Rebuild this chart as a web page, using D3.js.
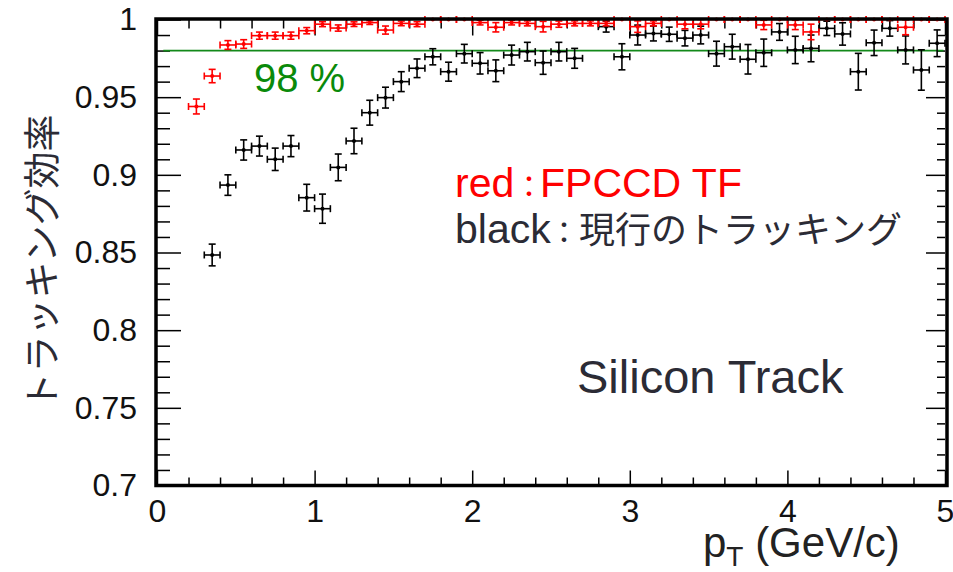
<!DOCTYPE html>
<html>
<head>
<meta charset="utf-8">
<script src="https://cdn.jsdelivr.net/npm/d3@7"></script>
<style>
  body { margin: 0; background: #fff; }
  svg { display: block; }
</style>
</head>
<body>
<div id="chart"></div>
<script>
// bin centres (GeV/c), bin half-width 0.05
const pT = [0.25, 0.35, 0.45, 0.55, 0.65, 0.75, 0.85, 0.95, 1.05, 1.15, 1.25, 1.35,
            1.45, 1.55, 1.65, 1.75, 1.85, 1.95, 2.05, 2.15, 2.25, 2.35, 2.45, 2.55,
            2.65, 2.75, 2.85, 2.95, 3.05, 3.15, 3.25, 3.35, 3.45, 3.55, 3.65, 3.75,
            3.85, 3.95, 4.05, 4.15, 4.25, 4.35, 4.45, 4.55, 4.65, 4.75, 4.85, 4.95];
const binHalf = 0.05;

// red : FPCCD TF
const redEff = [0.944, 0.9636, 0.9836, 0.9842, 0.9896, 0.9896, 0.9896, 0.9928, 0.997, 0.9945, 0.997, 0.998,
                0.9932, 0.9975, 0.997, 1.0, 1.0, 1.0, 0.998, 0.995, 0.998, 0.9975, 0.9954, 0.997,
                0.9975, 0.9975, 0.9975, 1.0, 0.9954, 0.9975, 1.0, 0.997, 0.997, 1.0, 1.0, 1.0,
                0.9965, 1.0, 0.9965, 0.992, 1.0, 1.0, 1.0, 1.0, 1.0, 0.995, 1.0, 1.0];
const redErr = [0.0048, 0.0043, 0.0028, 0.0028, 0.0023, 0.0023, 0.0023, 0.002, 0.0016, 0.002, 0.0015, 0.0012,
                0.0026, 0.0015, 0.0016, 0, 0, 0, 0.0015, 0.003, 0.0015, 0.0016, 0.0034, 0.002,
                0.0016, 0.0016, 0.0016, 0, 0.0037, 0.0016, 0, 0.003, 0.003, 0, 0, 0,
                0.003, 0, 0.003, 0.005, 0, 0, 0, 0, 0, 0.0048, 0, 0];

// black : current tracking
const blackEff = [null, 0.8484, 0.8934, 0.916, 0.9185, 0.91, 0.9185, 0.8853, 0.8782, 0.9048, 0.9218, 0.94,
                  0.9497, 0.96, 0.9686, 0.976, 0.9664, 0.978, 0.9718, 0.967, 0.9771, 0.9793, 0.9722, 0.9793,
                  0.975, null, 0.9954, 0.976, 0.990, 0.991, 0.9905, 0.988, 0.99, 0.978, 0.9825, 0.9744,
                  0.9786, 0.992, 0.9804, 0.9814, 0.9943, 0.9907, 0.9664, 0.985, 0.9943, 0.9804, 0.9675, 0.9847];
const blackErr = [null, 0.007, 0.0066, 0.0065, 0.0064, 0.0072, 0.0068, 0.0086, 0.0094, 0.0086, 0.0082, 0.008,
                  0.0067, 0.0064, 0.006, 0.0052, 0.0061, 0.006, 0.0069, 0.007, 0.0064, 0.006, 0.0075, 0.006,
                  0.0064, null, 0.0035, 0.0084, 0.0064, 0.0048, 0.0046, 0.005, 0.0057, 0.008, 0.008, 0.0095,
                  0.0088, 0.0054, 0.0088, 0.0086, 0.0046, 0.0072, 0.0118, 0.0082, 0.005, 0.009, 0.013, 0.0086];

const xMajor = [0, 1, 2, 3, 4, 5];
const yMajor = [0.7, 0.75, 0.8, 0.85, 0.9, 0.95, 1];
const yLabels = ["0.7", "0.75", "0.8", "0.85", "0.9", "0.95", "1"];
const refLevel = 0.98;

const W = 953, H = 572;
const latin = "'Liberation Sans', Arial, 'Noto Sans CJK JP', sans-serif";
const cjk = "'Noto Sans CJK JP', 'Liberation Sans', sans-serif";
const ink = "#2b2b35";

const svg = d3.select("#chart").append("svg")
    .attr("width", W)
    .attr("height", H);

const x = d3.scaleLinear().domain([0, 5]).range([157, 945]);
const y = d3.scaleLinear().domain([0.7, 1]).range([485.5, 19.5]);

const xMinor = d3.range(0, 5.001, 0.2).map(v => +v.toFixed(1)).filter(v => !xMajor.includes(v));
const yMinor = d3.range(0.7, 1.0001, 0.01).map(v => +v.toFixed(2)).filter(v => !yMajor.some(m => Math.abs(m - v) < 1e-6));

// axes with ticks on all four sides (ROOT style)
function tickAxis(axisFn, scale, values, size, translate, labels) {
    const ax = axisFn(scale).tickValues(values).tickSizeInner(size).tickSizeOuter(0);
    if (!labels) ax.tickFormat("");
    const g = svg.append("g").attr("transform", translate).call(ax);
    g.select(".domain").remove();
    g.selectAll(".tick line").attr("stroke", "#000").attr("stroke-width", 1.5);
    return g;
}

const bottomMajor = tickAxis(d3.axisBottom, x, xMajor, -15, `translate(0,${y(0.7)})`, true);
bottomMajor.call(g => g.selectAll("text")
    .attr("y", 14)
    .attr("font-family", latin)
    .attr("font-size", 32)
    .attr("fill", "#111")
    .text(d => d3.format("d")(d)));
tickAxis(d3.axisBottom, x, xMinor, -8, `translate(0,${y(0.7)})`, false);
tickAxis(d3.axisTop, x, xMajor, -16, `translate(0,${y(1)})`, false);
tickAxis(d3.axisTop, x, xMinor, -9, `translate(0,${y(1)})`, false);

const leftMajor = tickAxis(d3.axisLeft, y, yMajor, -24, `translate(${x(0)},0)`, true);
leftMajor.call(g => g.selectAll("text")
    .attr("x", -20)
    .attr("font-family", latin)
    .attr("font-size", 32)
    .attr("fill", "#111")
    .text((d, i) => yLabels[i]));
tickAxis(d3.axisLeft, y, yMinor, -13, `translate(${x(0)},0)`, false);
tickAxis(d3.axisRight, y, yMajor, -19, `translate(${x(5)},0)`, false);
tickAxis(d3.axisRight, y, yMinor, -8, `translate(${x(5)},0)`, false);

// 98 % reference line
svg.append("line")
    .attr("x1", x(0.04)).attr("x2", x(4.99))
    .attr("y1", y(refLevel)).attr("y2", y(refLevel))
    .attr("stroke", "#13891a")
    .attr("stroke-width", 1.8);

// error-bar crosses
function drawSeries(eff, err, color) {
    const pts = pT.map((p, i) => ({ p, e: eff[i], s: err[i] })).filter(d => d.e !== null);
    const cap = 3.5;
    const g = svg.append("g")
        .attr("stroke", color)
        .attr("stroke-width", 1.6)
        .attr("fill", "none");
    const pt = g.selectAll("g").data(pts).join("g");
    // horizontal bar + caps
    pt.append("line")
        .attr("x1", d => x(d.p - binHalf)).attr("x2", d => x(d.p + binHalf))
        .attr("y1", d => y(d.e)).attr("y2", d => y(d.e));
    pt.append("line")
        .attr("x1", d => x(d.p - binHalf)).attr("x2", d => x(d.p - binHalf))
        .attr("y1", d => y(d.e) - cap).attr("y2", d => y(d.e) + cap);
    pt.append("line")
        .attr("x1", d => x(d.p + binHalf)).attr("x2", d => x(d.p + binHalf))
        .attr("y1", d => y(d.e) - cap).attr("y2", d => y(d.e) + cap);
    // vertical bar + caps
    const withErr = pt.filter(d => d.s > 0);
    withErr.append("line")
        .attr("x1", d => x(d.p)).attr("x2", d => x(d.p))
        .attr("y1", d => y(d.e - d.s)).attr("y2", d => y(d.e + d.s));
    withErr.append("line")
        .attr("x1", d => x(d.p) - cap).attr("x2", d => x(d.p) + cap)
        .attr("y1", d => y(d.e - d.s)).attr("y2", d => y(d.e - d.s));
    withErr.append("line")
        .attr("x1", d => x(d.p) - cap).attr("x2", d => x(d.p) + cap)
        .attr("y1", d => y(d.e + d.s)).attr("y2", d => y(d.e + d.s));
    pt.append("circle")
        .attr("cx", d => x(d.p)).attr("cy", d => y(d.e))
        .attr("r", 2)
        .attr("fill", color)
        .attr("stroke", "none");
}

drawSeries(blackEff, blackErr, "#000");
drawSeries(redEff, redErr, "#ff0000");

// frame
svg.append("rect")
    .attr("x", x(0) - 1).attr("y", y(1) - 0.5)
    .attr("width", x(5) - x(0) + 3).attr("height", y(0.7) - y(1) + 0.5)
    .attr("fill", "none")
    .attr("stroke", "#000")
    .attr("stroke-width", 3.5);

// axis titles
svg.append("text")
    .attr("transform", "translate(40,262) rotate(-90)")
    .attr("text-anchor", "middle")
    .attr("dominant-baseline", "central")
    .attr("font-family", cjk)
    .attr("font-size", 37)
    .attr("fill", ink)
    .text("トラッキング効率");

const xt = svg.append("text")
    .attr("x", 703).attr("y", 557)
    .attr("font-family", latin)
    .attr("font-size", 42)
    .attr("fill", "#222");
xt.append("tspan").text("p");
xt.append("tspan").attr("font-size", 28).attr("dy", 9).text("T");
xt.append("tspan").attr("dy", -9).text(" (GeV/c)");

// annotations
svg.append("text")
    .attr("x", 254).attr("y", 92)
    .attr("font-family", latin)
    .attr("font-size", 40)
    .attr("fill", "#0a8a0a")
    .text("98 %");

const leg1 = svg.append("text")
    .attr("y", 197)
    .attr("font-family", latin)
    .attr("font-size", 41)
    .attr("fill", "#ff0000");
leg1.append("tspan").attr("x", 455).text("red");
leg1.append("tspan").attr("x", 514).attr("font-family", cjk).attr("font-size", 30).text("：");
leg1.append("tspan").attr("x", 540).text("FPCCD TF");

const leg2 = svg.append("text")
    .attr("y", 243)
    .attr("font-family", latin)
    .attr("font-size", 41)
    .attr("fill", ink);
leg2.append("tspan").attr("x", 455).text("black");
leg2.append("tspan").attr("x", 549).attr("font-family", cjk).attr("font-size", 30).text("：");
leg2.append("tspan").attr("x", 579).attr("font-family", cjk).attr("font-size", 36).text("現行のトラッキング");

svg.append("text")
    .attr("x", 577).attr("y", 393)
    .attr("font-family", latin)
    .attr("font-size", 47)
    .attr("fill", ink)
    .text("Silicon Track");
</script>
</body>
</html>
